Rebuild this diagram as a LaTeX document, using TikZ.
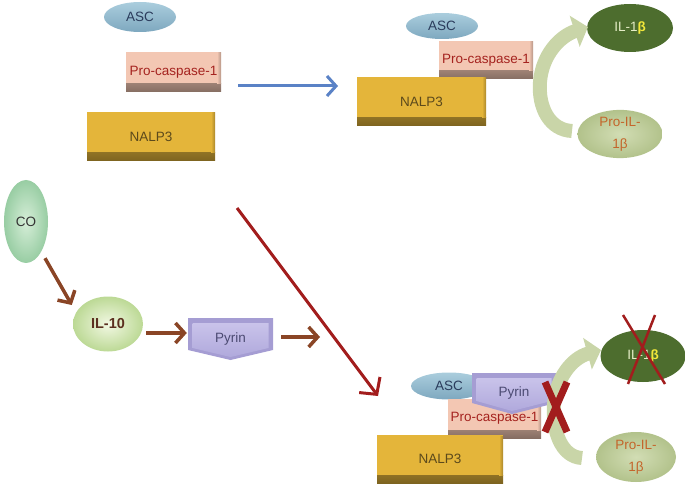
\documentclass[tikz,border=0pt]{standalone}
\usepackage{fontspec}
\setmainfont{Liberation Sans}
\usetikzlibrary{arrows.meta,shapes.geometric}
\definecolor{ascT}{HTML}{AACDDD}
\definecolor{ascB}{HTML}{7EA8BF}
\definecolor{ascTx}{HTML}{2B3C5C}
\definecolor{pcF}{HTML}{F3C7B3}
\definecolor{pcTx}{HTML}{A5231F}
\definecolor{nalpF}{HTML}{E4B53A}
\definecolor{nalpTx}{HTML}{5C4A1C}
\definecolor{ilF}{HTML}{4D6D2E}
\definecolor{ilTx}{HTML}{E6EEC8}
\definecolor{betaY}{HTML}{F2E83A}
\definecolor{proI}{HTML}{D2DDB4}
\definecolor{proO}{HTML}{B2C28B}
\definecolor{proTx}{HTML}{C4652B}
\definecolor{coI}{HTML}{D6EED8}
\definecolor{coO}{HTML}{98CDA3}
\definecolor{ilxI}{HTML}{F2F8E3}
\definecolor{ilxO}{HTML}{BCD995}
\definecolor{ilxTx}{HTML}{5B2F1F}
\definecolor{pyrO}{HTML}{A59DD3}
\definecolor{pyrT}{HTML}{C9C3EA}
\definecolor{pyrB}{HTML}{B0A9DC}
\definecolor{pyrTx}{HTML}{4B4A72}
\definecolor{brn}{HTML}{8A4526}
\definecolor{blu}{HTML}{5A82C6}
\definecolor{redd}{HTML}{A21D1D}
\definecolor{crv}{HTML}{C9D5A8}
\begin{document}
\begin{tikzpicture}[x=1pt,y=-1pt,
  font=\fontsize{13.5}{16}\selectfont,
  shbox/.style={rectangle, inner sep=0, fill=#1,
    path picture={\shade[top color=#1, bottom color=#1!55!black]
      ([yshift=8pt]path picture bounding box.south west) rectangle (path picture bounding box.south east);
      \shade[left color=#1, right color=#1!75!black]
      ([xshift=-4pt,yshift=-1pt]path picture bounding box.north east) rectangle ([yshift=8pt]path picture bounding box.south east);}},
  pcbox/.style={shbox=pcF, text=pcTx},
  nalpbox/.style={shbox=nalpF, text=nalpTx},
  ascell/.style={ellipse, inner sep=0, top color=ascT, bottom color=ascB, text=ascTx},
  ilell/.style={ellipse, inner sep=0, fill=ilF, text=ilTx},
  proell/.style={ellipse, inner sep=0, inner color=proI, outer color=proO, text=proTx, align=center},
  coell/.style={ellipse, inner sep=0, inner color=coI, outer color=coO, text=black!80},
  il10ell/.style={ellipse, inner sep=0, inner color=ilxI, outer color=ilxO, text=ilxTx, font=\fontsize{14.5}{17}\selectfont\bfseries},
  pyrnode/.style={rectangle, inner sep=0, minimum width=85pt, minimum height=42pt, text=pyrTx},
  pyrout/.style={fill=pyrO},
  pyrin/.style={top color=pyrT, bottom color=pyrB},
  brnarr/.style={draw=brn, line width=3.5pt, -{Straight Barb[length=9pt,width=20pt]}},
  bluarr/.style={draw=blu, line width=3pt, -{Straight Barb[length=9pt,width=20pt]}},
  redarr/.style={draw=redd, line width=3pt, -{Straight Barb[length=12pt,width=26pt]}},
  crvarr/.style={draw=crv, line width=14pt, -{Triangle[length=14pt,width=32pt]}},
  xline/.style={draw=redd, line width=2.5pt},
  bigx/.style={draw=redd, line width=7pt},
]
\useasboundingbox (0,0) rectangle (685,486);

% ---------- top left ----------
\node[ascell, minimum width=72pt, minimum height=30pt] (asc1) at (140,17) {ASC};
\node[pcbox, minimum width=95pt, minimum height=40pt] (pc1) at (173.5,72) {Pro-caspase-1};
\node[nalpbox, minimum width=128pt, minimum height=49pt] (nalp1) at (151,136.5) {NALP3};
\coordinate (b1) at (238,86);
\coordinate (b2) at (338,86);
\draw[bluarr] (b1) -- (b2);

% ---------- top right ----------
\node[ascell, minimum width=72pt, minimum height=26pt] (asc2) at (442,26) {ASC};
\node[pcbox, minimum width=94pt, minimum height=38pt] (pc2) at (486,60) {Pro-caspase-1};
\node[nalpbox, minimum width=129pt, minimum height=49pt] (nalp2) at (421.5,101.5) {NALP3};
\node[ilell, minimum width=86pt, minimum height=48pt] (il1) at (630,28) {IL-1\textcolor{betaY}{\bfseries β}};
\node[proell, minimum width=85pt, minimum height=48pt] (pro1) at (620,134) {Pro-IL-\\[6pt]1β};
\coordinate (c1s) at (572,131);
\coordinate (c1m) at (540,82);
\coordinate (c1e) at (588,27);
\draw[crvarr] (c1s) .. controls (550,130) and (538,108) .. (c1m) .. controls (542,55) and (560,36) .. (c1e);

% ---------- bottom left ----------
\node[coell, minimum width=44pt, minimum height=83pt] (co) at (26,221.5) {CO};
\node[il10ell, minimum width=70pt, minimum height=55pt] (il10) at (108,324) {IL-10};
\begin{scope}[shift={(230.5,339)}]
  \fill[pyrout] (-42.5,-21) -- (42.5,-21) -- (42.5,11) -- (0,21) -- (-42.5,11) -- cycle;
  \shade[pyrin] (-38,-16) -- (38,-16) -- (38,9) -- (0,18) -- (-38,9) -- cycle;
\end{scope}
\node[pyrnode] (pyr1) at (230.5,339) {Pyrin};
\draw[brnarr] ([shift={(19,-5)}]co.south) -- ([shift={(-1,-19)}]il10.west);
\draw[brnarr] ([shift={(3,9)}]il10.east) -- ([shift={(-1,-6)}]pyr1.west);
\coordinate (p2) at (320,337);
\draw[brnarr] ([shift={(8,-2)}]pyr1.east) -- (p2);

% ---------- red arrow ----------
\coordinate (r1) at (237,208);
\coordinate (r2) at (378,396);
\draw[redarr] (r1) -- (r2);

% ---------- bottom right ----------
\node[ascell, minimum width=76pt, minimum height=27pt] (asc3) at (449,386) {ASC};
\node[pcbox, minimum width=93pt, minimum height=39pt] (pc3) at (494.5,418.5) {Pro-caspase-1};
\begin{scope}[shift={(514,393.5)}]
  \fill[pyrout] (-42,-20.5) -- (42,-20.5) -- (42,9.5) -- (-2,20.5) -- (-42,9.5) -- cycle;
  \shade[pyrin] (-37.5,-15.5) -- (37.5,-15.5) -- (37.5,7.5) -- (-2,17.5) -- (-37.5,7.5) -- cycle;
\end{scope}
\node[pyrnode, minimum width=84pt, minimum height=41pt] (pyr3) at (514,393.5) {Pyrin};
\node[nalpbox, minimum width=126pt, minimum height=48pt] (nalp3) at (440,459) {NALP3};
\node[ilell, minimum width=85pt, minimum height=52pt] (il3) at (643,356) {IL-1\textcolor{betaY}{\bfseries β}};
\node[proell, minimum width=80pt, minimum height=50pt] (pro3) at (636,457) {Pro-IL-\\[6pt]1β};
\coordinate (c3s) at (582,458);
\coordinate (c3m) at (554,405);
\coordinate (c3e) at (601,350);
\draw[crvarr] (c3s) .. controls (561,457) and (552,430) .. (c3m) .. controls (556,378) and (572,358) .. (c3e);
% crosses
\coordinate (x1a) at (623,315);
\coordinate (x1b) at (665,384);
\coordinate (x2a) at (655,315);
\coordinate (x2b) at (628,384);
\draw[xline] (x1a) -- (x1b);
\draw[xline] (x2a) -- (x2b);
\coordinate (y1a) at (545,382);
\coordinate (y1b) at (567,432);
\coordinate (y2a) at (567,382);
\coordinate (y2b) at (545,432);
\draw[bigx] (y1a) -- (y1b);
\draw[bigx] (y2a) -- (y2b);
\end{tikzpicture}
\end{document}
